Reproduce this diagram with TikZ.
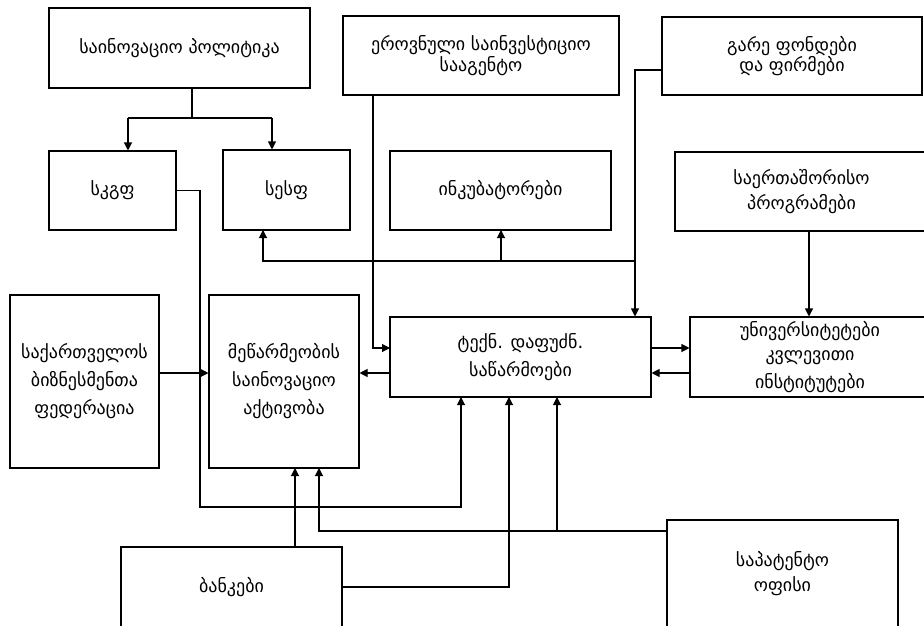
\documentclass[tikz,border=0pt]{standalone}
\usepackage{fontspec}
\setmainfont{DejaVu Sans}
\usetikzlibrary{arrows.meta}

\tikzset{
  box/.style={draw, line width=0.8pt, align=center, inner sep=2pt,
    font=\fontsize{13.5}{13}\selectfont},
  sz/.style 2 args={minimum width=#1*0.75pt, minimum height=#2*0.75pt},
  link/.style={line width=0.8pt, -{Triangle[length=6pt,width=6pt]}},
  plain/.style={line width=0.8pt}
}

\begin{document}
\begin{tikzpicture}[x=0.75pt,y=-0.75pt]
\clip (0,0) rectangle (924,625);
\fill[white] (0,0) rectangle (924,625);

% === boxes ===
\node[box,sz={261}{80}] (policy) at (179.5,48) {საინოვაციო პოლიტიკა};
\node[box,sz={127}{79}] (skgf) at (112.5,190.5) {სკგფ};
\node[box,sz={127}{80}] (sesf) at (286.5,190) {სესფ};
\node[box,sz={276}{79}] (eros) at (481,55.5) {ეროვნული საინვესტიციო\\სააგენტო};
\node[box,sz={221}{79}] (inkub) at (500.5,190.5) {ინკუბატორები};
\node[box,sz={260}{78}] (gare) at (792,56) {გარე ფონდები\\და ფირმები};
\node[box,sz={253}{79}] (saert) at (801.5,191.5) {საერთაშორისო\\[3.5pt]პროგრამები};
\node[box,sz={149}{173}] (biznes) at (84.5,381.5) {საქართველოს\\[5.5pt]ბიზნესმენთა\\[5.5pt]ფედერაცია};
\node[box,sz={150}{173}] (mewarm) at (284,381.5) {მეწარმეობის\\[5.5pt]საინოვაციო\\[5.5pt]აქტივობა};
\node[box,sz={261}{80}] (tech) at (520.5,357) {ტექნ. დაფუძნ.\\[5pt]საწარმოები};
\node[box,sz={240}{80}] (univ) at (810,357) {უნივერსიტეტები\\[5.5pt]კვლევითი\\[5.5pt]ინსტიტუტები};
\node[box,sz={221}{80}] (bank) at (231.5,587) {ბანკები};
\node[box,sz={231}{107}] (patent) at (782.5,573.5) {საპატენტო\\[3.5pt]ოფისი};

% === points on the boxes ===
\coordinate (split) at (192,118);
\coordinate (barl) at (128,118);
\coordinate (barr) at (272,118);
\coordinate (e1) at (373,95);
\coordinate (g1) at (635,70);
\coordinate (g2) at (635,261);
\coordinate (sb) at (263,230);
\coordinate (ib) at (501,230);
\coordinate (s1) at (809,231);
\coordinate (tw1) at (390,348);
\coordinate (tw2) at (390,373);
\coordinate (t1) at (461,397);
\coordinate (t2) at (509,397);
\coordinate (t3) at (557,397);
\coordinate (m1) at (295,468);
\coordinate (m2) at (319,468);
\coordinate (p1) at (667,531);

% === connectors ===
\draw[plain] (policy.south -| split) -- (split);
\draw[plain] (barl) -- (barr);
\draw[link] (barl) -- (barl |- skgf.north);
\draw[link] (barr) -- (barr |- sesf.north);

\draw[link] (e1) |- (tw1);
\draw[link] (gare.west |- g1) -| (tech.north -| g1);
\draw[link] (g2) -| (sb);
\draw[link] (ib |- g2) -- (ib);
\draw[link] (s1) -- (s1 |- univ.north);

\draw[link] (biznes.east |- tw2) -- (mewarm.west |- tw2);
\draw[link] (tw2) -- (mewarm.east |- tw2);
\draw[link] (tech.east |- tw1) -- (univ.west |- tw1);
\draw[link] (univ.west |- tw2) -- (tech.east |- tw2);

\draw[link] (skgf.east) -| (200,507) -| (t1);
\draw[link] (bank.north -| m1) -- (m1);
\draw[link] (bank.east) -| (t2);
\draw[link] (p1) -| (m2);
\draw[link] (t3 |- p1) -- (t3);

\end{tikzpicture}
\end{document}
